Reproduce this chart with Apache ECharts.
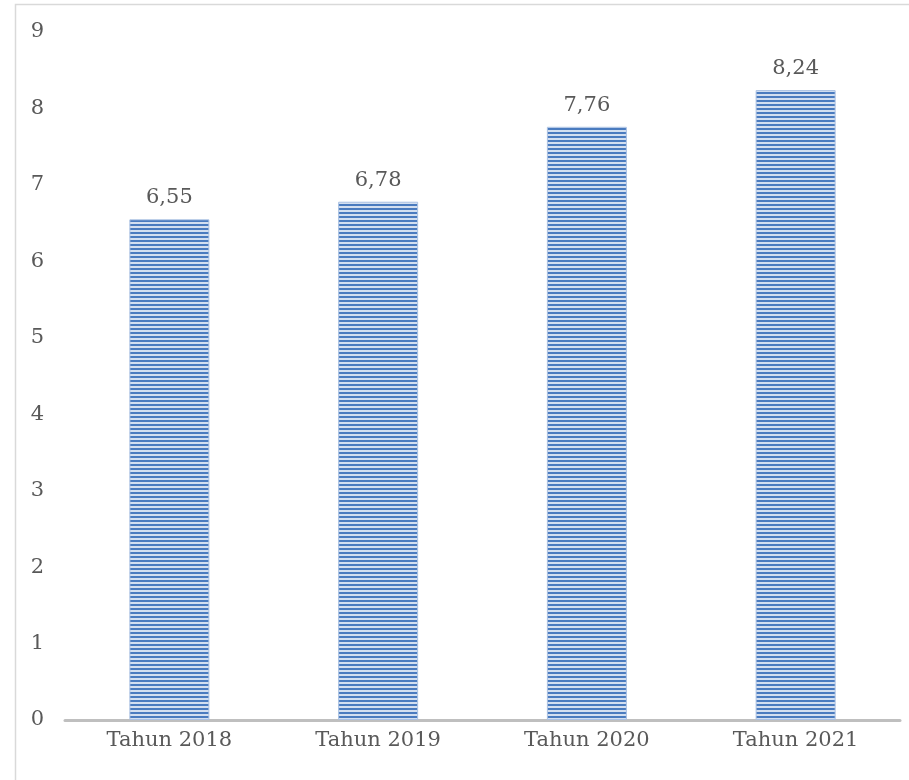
<!DOCTYPE html>
<html>
<head>
<meta charset="utf-8">
<script src="https://cdn.jsdelivr.net/npm/echarts@6/dist/echarts.min.js"></script>
<style>
    html, body { margin: 0; padding: 0; background: #fff; }
    #chart { width: 909px; height: 780px; }
</style>
</head>
<body>
<div id="chart"></div>
<script>
    var categories = ['Tahun 2018', 'Tahun 2019', 'Tahun 2020', 'Tahun 2021'];
    var values = [6.55, 6.78, 7.76, 8.24];
    var yTicks = [0, 1, 2, 3, 4, 5, 6, 7, 8, 9];

    var fontName = 'DejaVu Serif';
    var textColor = '#595959';

    // horizontal stripes like the office fill
    function stripePattern() {
        var c = document.createElement('canvas');
        c.width = 8;
        c.height = 4;
        var ctx = c.getContext('2d');
        ctx.fillStyle = '#d3dff0';
        ctx.fillRect(0, 0, 8, 4);
        ctx.fillStyle = '#4a7bbf';
        ctx.fillRect(0, 0, 8, 2);
        return c;
    }

    var myChart = echarts.init(document.getElementById('chart'));
    var option = {
        animation: false,
        backgroundColor: '#fff',
        graphic: [
            {
                type: 'rect',
                left: 13,
                top: 2,
                shape: { width: 1000, height: 900 },
                style: { fill: 'none', stroke: '#d9d9d9', lineWidth: 1.5 },
                silent: true
            }
        ],
        grid: {
            left: 65,
            right: 9,
            top: 32,
            bottom: 60,
            containLabel: false
        },
        xAxis: {
            type: 'category',
            data: categories,
            axisLine: { show: true, lineStyle: { color: '#bfbfbf', width: 3 } },
            axisTick: { show: false },
            axisLabel: {
                color: textColor,
                fontFamily: fontName,
                fontSize: 21,
                margin: 10
            },
            splitLine: { show: false }
        },
        yAxis: {
            type: 'value',
            min: yTicks[0],
            max: yTicks[yTicks.length - 1],
            interval: 1,
            axisLine: { show: false },
            axisTick: { show: false },
            splitLine: { show: false },
            axisLabel: {
                color: textColor,
                fontFamily: fontName,
                fontSize: 21,
                margin: 21
            }
        },
        series: [
            {
                type: 'bar',
                data: values,
                barWidth: 80,
                itemStyle: {
                    color: { image: stripePattern(), repeat: 'repeat' },
                    borderColor: '#a9c0e2',
                    borderWidth: 1
                },
                label: {
                    show: true,
                    position: 'top',
                    distance: 11,
                    color: textColor,
                    fontFamily: fontName,
                    fontSize: 21,
                    formatter: function (p) {
                        return p.value.toFixed(2).replace('.', ',');
                    }
                }
            }
        ]
    };
    myChart.setOption(option);
</script>
</body>
</html>
